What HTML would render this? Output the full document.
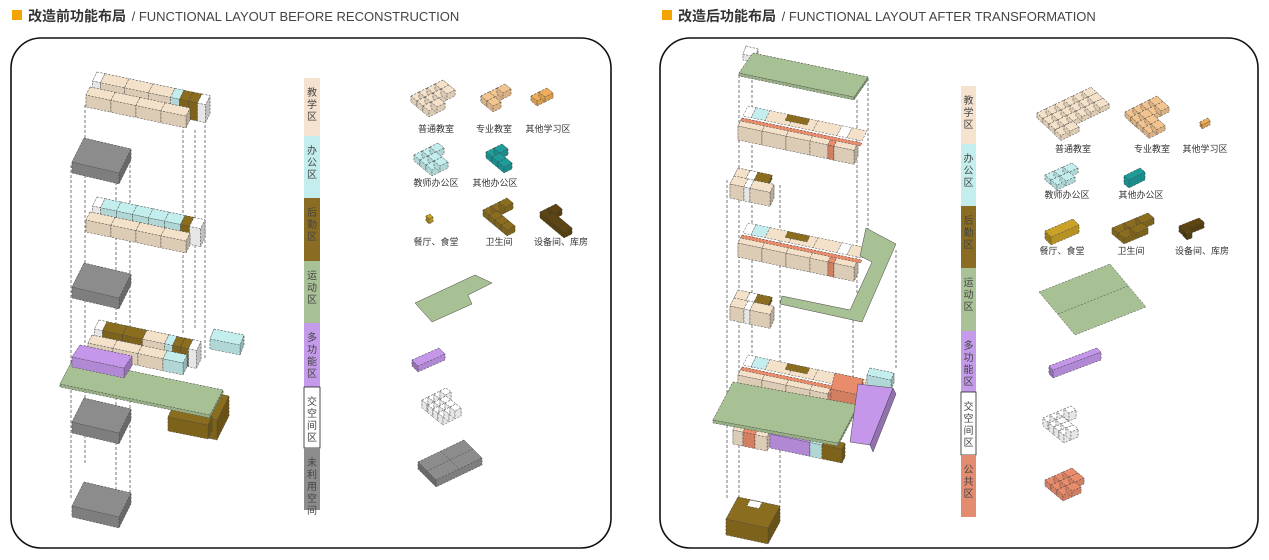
<!DOCTYPE html>
<html><head><meta charset="utf-8">
<style>
html,body{margin:0;padding:0;background:#fff;width:1269px;height:560px;overflow:hidden}
svg{display:block;font-family:"Liberation Sans","Noto Sans CJK SC",sans-serif}
</style></head>
<body>
<svg id="s" width="1269" height="560" viewBox="0 0 1269 560" xmlns="http://www.w3.org/2000/svg">
<rect x="12" y="10" width="10" height="10" fill="#f5a300"/>
<text x="28" y="21" font-size="14" fill="#333"><tspan font-weight="bold" font-family="Noto Sans CJK SC,sans-serif">改造前功能布局</tspan><tspan font-size="13" fill="#444" dx="2"> / FUNCTIONAL LAYOUT BEFORE RECONSTRUCTION</tspan></text>
<rect x="662" y="10" width="10" height="10" fill="#f5a300"/>
<text x="678" y="21" font-size="14" fill="#333"><tspan font-weight="bold" font-family="Noto Sans CJK SC,sans-serif">改造后功能布局</tspan><tspan font-size="13" fill="#444" dx="2"> / FUNCTIONAL LAYOUT AFTER TRANSFORMATION</tspan></text>
<rect x="11" y="38" width="600" height="510" rx="30" fill="none" stroke="#111" stroke-width="1.6"/>
<rect x="660" y="38" width="598" height="510" rx="30" fill="none" stroke="#111" stroke-width="1.6"/>
<g id="g"></g>
</svg>
<script>
var out=[];
function hex(c,f){var r=parseInt(c.substr(1,2),16),g=parseInt(c.substr(3,2),16),b=parseInt(c.substr(5,2),16);
return "rgb("+Math.round(r*f)+","+Math.round(g*f)+","+Math.round(b*f)+")";}
function P(a){return a.map(function(p){return p[0].toFixed(1)+","+p[1].toFixed(1)}).join(" ");}
function poly(pts,fill,dash){out.push('<polygon points="'+P(pts)+'" fill="'+fill+'" stroke="#444" stroke-width="0.5"'+(dash?' stroke-dasharray="2,1.5"':'')+'/>');}
function add(p,q){return [p[0]+q[0],p[1]+q[1]];}
function box(p0,u,v,H,c){
  var p1=add(p0,u),p2=add(p1,v),p3=add(p0,v);var top=[p0,p1,p2,p3];
  var h=[0,H];var faces=[];
  for(var i=0;i<4;i++){var A=top[i],B=top[(i+1)%4];
    var f=[A,B,add(B,h),add(A,h)];var dx=Math.abs(B[0]-A[0]),dy=Math.abs(B[1]-A[1]);
    faces.push({f:f,y:(A[1]+B[1])/2,s:dx>dy?0.9:0.75});}
  faces.sort(function(a,b){return a.y-b.y});
  faces.forEach(function(o){if(H>0)poly(o.f,hex(c,o.s),1);});
  poly(top,c,1);
}
var A=[1,0.21],B=[-0.5,1];
function row(x,y,segs,D,H){var off=0;segs.forEach(function(s){
  box([x+off*A[0],y+off*A[1]],[s[0]*A[0],s[0]*A[1]],[D*B[0],D*B[1]],H,s[1]);off+=s[0];});}
var W="#ffffff",Be="#f4e1c9",C="#c4eeee",Br="#8b6d1f",G="#8c8c8c",Gr="#a8c194",Pu="#c497ea",O="#e98c6c",T="#1d9c9a",Go="#c9a227",DB="#5e4511",SB="#f2c590",OS="#f0ad5a";
function dl(x,y1,y2){out.push('<line x1="'+x+'" y1="'+y1+'" x2="'+x+'" y2="'+y2+'" stroke="#555" stroke-width="0.8" stroke-dasharray="3,2"/>');}
dl(71,165,500);dl(85,105,465);dl(116,182,510);dl(130,150,495);dl(183,125,335);dl(205,100,360);dl(195,130,330);
row(97,72,[[8,W],[24,Be],[24,Be],[22,Be],[9,C],[9,Br],[9,Br],[8,W]],9,18);
row(90,87,[[25,Be],[25,Be],[25,Be],[25,Be]],8,12);
box([84,138],[47,11],[-12,24],11,G);
row(97,197,[[8,W],[16,C],[16,C],[16,C],[16,C],[16,C],[9,Br],[11,W]],9,18);
row(90,212,[[25,Be],[25,Be],[25,Be],[25,Be]],8,12);
box([84,263],[47,11],[-12,24],11,G);
box([214,329],[30,6],[-4,10],10,C);
row(99,320,[[8,W],[20,Br],[20,Br],[22,Be],[8,C],[8,Br],[8,Br],[8,W]],9,18);
row(92,335,[[25,Be],[25,Be],[25,Be],[20,C]],8,12);
box([185,387],[44,9],[-12,24],20,Br);
box([172,408],[40,8],[-4,9],14,Br);
box([73,359],[150,31],[-13,25],3,Gr);
box([80,345],[52,11],[-8,12],10,Pu);
box([84,398],[47,11],[-12,24],11,G);
box([84,482],[47,11],[-12,24],11,G);
var lb=[[78,136,"#f5e3cf","教学区"],[136,198,"#c4eeee","办公区"],[198,261,"#8a6d22","后勤区"],[261,323,"#a9c196","运动区"],[323,387,"#c49aea","多功能区"],[387,448,"#ffffff","交空间区"],[448,510,"#8c8c8c","未利用空间"]];
function bar(x,w,arr){arr.forEach(function(s){out.push('<rect x="'+x+'" y="'+s[0]+'" width="'+w+'" height="'+(s[1]-s[0])+'" fill="'+s[2]+'"'+(s[2]=="#ffffff"?' stroke="#222" stroke-width="0.8"':'')+'/>');
 var ch=s[3].split("");ch.forEach(function(c,i){out.push('<text x="'+(x+w/2)+'" y="'+(s[0]+18+i*12)+'" font-size="10" text-anchor="middle" fill="#444" font-family="Noto Sans CJK SC,sans-serif">'+c+'</text>');});});}
bar(304,16,lb);
function lab(x,y,t){out.push('<text x="'+x+'" y="'+y+'" font-size="9" text-anchor="middle" fill="#333" font-family="Noto Sans CJK SC,sans-serif">'+t+'</text>');}
function ic(x,y,nu,nv,su,sv,H,c){for(var j=0;j<nv;j++)for(var i=0;i<nu;i++){box([x+i*su[0]+j*sv[0],y+i*su[1]+j*sv[1]],su,sv,H,c);}}
var U1=[8,-4],V1=[6,5];
ic(411,96,4,2,U1,V1,6,Be);ic(423,106,2,1,U1,V1,6,Be);
ic(481,96,3,1,U1,V1,6,SB);ic(481,96,1,2,U1,V1,6,SB);
ic(531,96,2,1,U1,V1,5,OS);
lab(436,132,"普通教室");lab(494,132,"专业教室");lab(548,132,"其他学习区");
ic(414,155,3,1,U1,V1,6,C);ic(420,160,2,2,U1,V1,6,C);
ic(486,152,2,1,U1,V1,6,T);ic(492,157,1,2,U1,V1,6,T);
lab(436,186,"教师办公区");lab(495,186,"其他办公区");
ic(426,216,1,1,[4,-2],[3,3],5,Go);
ic(483,210,3,1,U1,V1,6,Br);ic(489,215,1,3,U1,V1,6,Br);
ic(540,212,2,1,U1,V1,6,DB);ic(546,217,1,3,U1,V1,6,DB);
lab(436,245,"餐厅、食堂");lab(499,245,"卫生间");lab(561,245,"设备间、库房");
poly([[415,303],[475,275],[492,283],[468,295],[472,304],[432,322]],Gr);
box([412,360],[27,-12],[6,6],6,Pu);
ic(422,400,4,1,[6,-3],[5,4],8,W);ic(428,405,3,3,[6,-3],[5,4],8,W);
box([418,462],[46,-22],[18,18],7,G);
out.push('<line x1="441" y1="451" x2="459" y2="469" stroke="#444" stroke-width="0.5" stroke-dasharray="2,1.5"/><line x1="427" y1="471" x2="473" y2="449" stroke="#444" stroke-width="0.5" stroke-dasharray="2,1.5"/>');

dl(739,75,505);dl(752,75,420);dl(780,185,505);dl(857,100,300);dl(868,78,230);dl(896,250,370);dl(727,180,500);dl(853,315,430);
box([746,46],[12,3],[-3,8],6,W);
box([753,53],[115,24],[-14,20],3,Gr);
function floorR(y){
 row(748,y,[[8,W],[14,C],[24,Be],[24,Be],[24,Be],[10,W],[15,Be]],10,0);
 box([788,y+8.4],[22,4.6],[-3,6],0,Br);
 row(742,y+12,[[24,Be],[24,Be],[24,Be],[18,Be],[6,O],[20,Be]],8,14);
 box([742,y+12],[120,25],[-1.5,3],0,O);
}
floorR(106);
function blkR(y){
 row(738,y,[[12,Be],[8,W],[14,Br]],8,4);
 row(734,y+8,[[14,Be],[6,W],[20,Be]],8,14);
}
blkR(168);
floorR(223);
poly([[866,228],[896,244],[862,322],[780,304],[782,296],[850,310],[872,262],[860,256]],Gr);
blkR(290);
box([870,368],[24,5],[-3,7],10,C);
floorR(355);
box([835,373],[28,6],[-4,16],16,O);
row(737,422,[[10,Be],[12,O],[12,Be]],8,14);
row(773,428,[[40,Pu],[12,C],[20,Br]],6,14);
box([733,382],[125,23],[-20,38],3,Gr);
poly([[858,384],[893,388],[870,445],[850,442]],Pu);
poly([[893,388],[896,394],[873,452],[870,445]],hex(Pu,0.75));
box([738,497],[42,9],[-12,22],16,Br);
box([750,500],[12,2.5],[-3,6],0,W);
var rb=[[86,144,"#f5e3cf","教学区"],[144,206,"#c4eeee","办公区"],[206,268,"#8a6d22","后勤区"],[268,331,"#a9c196","运动区"],[331,392,"#c49aea","多功能区"],[392,455,"#ffffff","交空间区"],[455,517,"#e48c6f","公共区"]];
bar(961,15,rb);
var U2=[9,-4.3],V2=[6,5.5];
ic(1037,113,6,3,U2,V2,5,Be);ic(1055,130,2,1,U2,V2,5,Be);
ic(1125,112,4,2,[8,-4],V2,5,SB);ic(1131,117,2,3,[8,-4],V2,5,SB);
box([1200,122],[8,-4],[2,3],4,OS);
lab(1073,152,"普通教室");lab(1152,152,"专业教室");lab(1205,152,"其他学习区");
ic(1045,175,3,1,[9,-4],[6,5],5,C);ic(1051,180,2,1,[9,-4],[6,5],5,C);
box([1124,176],[16,-8],[5,4],8,T);
lab(1067,198,"教师办公区");lab(1141,198,"其他办公区");
box([1045,231],[28,-12],[6,6],8,Go);
ic(1112,228,3,1,[12,-5],[6,5],6,Br);ic(1118,233,2,1,[12,-5],[6,5],6,Br);
box([1179,226],[20,-8],[5,4],6,DB);box([1183,230],[5,-2],[4,4],6,DB);
lab(1062,254,"餐厅、食堂");lab(1131,254,"卫生间");lab(1202,254,"设备间、库房");
box([1039,292],[71,-28],[36,43],0,Gr);
out.push('<line x1="1058" y1="314" x2="1128" y2="286" stroke="#444" stroke-width="0.5" stroke-dasharray="2,1.5"/>');
box([1049,366],[48,-18],[4,4],8,Pu);
ic(1043,418,4,1,[7,-3],[5,4],8,W);ic(1049,423,2,3,[7,-3],[5,4],8,W);
ic(1045,480,3,2,[9,-4],[6,5],6,O);ic(1057,490,2,1,[9,-4],[6,5],6,O);
document.getElementById("g").innerHTML=out.join("");
</script>
</body></html>
